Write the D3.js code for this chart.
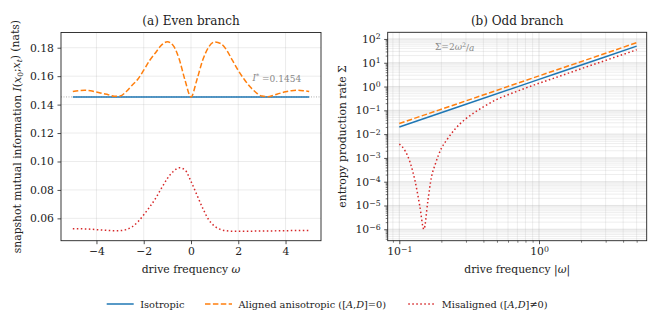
<!DOCTYPE html>
<html>
<head>
<meta charset="utf-8">
<script src="https://cdn.jsdelivr.net/npm/d3@7"></script>
<style>
  body { margin: 0; background: #fff; }
  svg { font-family: 'DejaVu Serif', serif; }
</style>
</head>
<body>
<svg id="chart" width="652" height="314"></svg>
<script>
// (a) even branch: drive frequency vs snapshot mutual information
const evenOmega = [
  -5, -4.75, -4.5, -4.25, -4, -3.75, -3.5, -3.25, -3, -2.75, -2.5, -2.25, -2, -1.75,
  -1.5, -1.25, -1, -0.75, -0.5, -0.25, 0, 0.25, 0.5, 0.75, 1, 1.25, 1.5, 1.75, 2,
  2.25, 2.5, 2.75, 3, 3.25, 3.5, 3.75, 4, 4.25, 4.5, 4.75, 5,
]
const isoOmega = [-5, 5]
const isoEven = [0.1454, 0.1454]
const alignedEven = [
  0.1492, 0.1498, 0.1501, 0.1498, 0.1488, 0.1478, 0.147, 0.1459, 0.146, 0.149, 0.1535,
  0.1578, 0.1642, 0.171, 0.1765, 0.1818, 0.1842, 0.1815, 0.172, 0.157, 0.1454, 0.1575,
  0.1715, 0.1805, 0.184, 0.183, 0.1785, 0.1712, 0.164, 0.1578, 0.1525, 0.1485, 0.146,
  0.1456, 0.1466, 0.1479, 0.149, 0.1498, 0.1501, 0.1498, 0.1492,
]
const misalignedEven = [
  0.0527, 0.0527, 0.0526, 0.0524, 0.0521, 0.0518, 0.0515, 0.0513, 0.0514, 0.0521, 0.054,
  0.0575, 0.0625, 0.068, 0.074, 0.0812, 0.088, 0.093, 0.0956, 0.094, 0.086, 0.0765,
  0.067, 0.059, 0.0545, 0.0522, 0.0513, 0.051, 0.051, 0.051, 0.051, 0.0511, 0.0511,
  0.0512, 0.0512, 0.0513, 0.0513, 0.0514, 0.0514, 0.0515, 0.0515,
]
const iStar = 0.1454
const evenXTicks = [-4, -2, 0, 2, 4]
const evenYTicks = [0.06, 0.08, 0.1, 0.12, 0.14, 0.16, 0.18]

// (b) odd branch: |omega| vs entropy production rate
const lineOmega = [0.1, 0.3, 1, 3, 5]
const isoOdd = [0.02, 0.18, 2, 18, 50]
const alignedOdd = [0.028, 0.25, 2.8, 25, 70]
const oddOmega = [
  0.1, 0.11, 0.12, 0.13, 0.14, 0.15, 0.16, 0.17, 0.18, 0.2, 0.22, 0.25, 0.3, 0.35,
  0.4, 0.5, 0.6, 0.7, 0.8, 1, 1.5, 2, 3, 4, 5,
]
const misalignedOdd = [
  3.8e-3, 2.0e-3, 6e-4, 1e-4, 1e-5, 1e-6, 1.5e-5, 1.6e-4, 5e-4, 2.5e-3, 6e-3, 1.6e-2,
  4.5e-2, 8.5e-2, 0.14, 0.29, 0.45, 0.64, 0.86, 1.37, 3.1, 5.6, 12.6, 22.4, 35,
]
const oddXExponents = [-1, 0]
const oddYExponents = [-6, -5, -4, -3, -2, -1, 0, 1, 2]

const legendLabels = ['Isotropic', 'Aligned anisotropic', 'Misaligned']

const colors = { iso: '#1f77b4', aligned: '#ff7f0e', mis: '#d62728' }
const dashes = { iso: null, aligned: '5.5,2.4', mis: '1.5,2.5' }

const svg = d3.select('#chart')

const boxA = { left: 61, right: 321, top: 32.5, bottom: 240.7 }
const boxB = { left: 387.7, right: 646.7, top: 32.3, bottom: 240.7 }

const xA = d3.scaleLinear().domain([-5.5, 5.5]).range([boxA.left, boxA.right])
const yA = d3.scaleLinear().domain([0.0443, 0.1907]).range([boxA.bottom, boxA.top])
const xB = d3.scaleLog().domain([0.0826, 5.9]).range([boxB.left, boxB.right])
const yB = d3.scaleLog().domain([10 ** -6.48, 10 ** 2.28]).range([boxB.bottom, boxB.top])

function minorLogTicks(scale) {
  const [lo, hi] = scale.domain()
  const out = []
  for (let e = Math.floor(Math.log10(lo)); e <= Math.ceil(Math.log10(hi)); e++) {
    for (let m = 2; m <= 9; m++) {
      const v = m * 10 ** e
      if (v >= lo && v <= hi) out.push(v)
    }
  }
  return out
}

function styleAxis(g, fontSize) {
  g.select('.domain').remove()
  g.selectAll('.tick line').attr('stroke', '#222').attr('stroke-width', 0.8)
  g.selectAll('.tick text')
    .attr('fill', '#222')
    .style('font-family', 'DejaVu Serif')
    .style('font-size', fontSize + 'px')
}

function gridLines(g, values, x, y, box, vertical, opacity) {
  g.selectAll(null)
    .data(values)
    .join('line')
    .attr('x1', d => (vertical ? x(d) : box.left))
    .attr('x2', d => (vertical ? x(d) : box.right))
    .attr('y1', d => (vertical ? box.top : y(d)))
    .attr('y2', d => (vertical ? box.bottom : y(d)))
    .attr('stroke', '#b0b0b0')
    .attr('stroke-opacity', opacity)
    .attr('stroke-width', 0.8)
}

function frame(box) {
  svg
    .append('rect')
    .attr('x', box.left)
    .attr('y', box.top)
    .attr('width', box.right - box.left)
    .attr('height', box.bottom - box.top)
    .attr('fill', 'none')
    .attr('stroke', '#222')
    .attr('stroke-width', 0.9)
}

function series(g, xs, ys, x, y, key) {
  const line = d3
    .line()
    .x(d => x(d[0]))
    .y(d => y(d[1]))
    .curve(d3.curveMonotoneX)
  g.append('path')
    .datum(d3.zip(xs, ys))
    .attr('d', line)
    .attr('fill', 'none')
    .attr('stroke', colors[key])
    .attr('stroke-width', 1.5)
    .attr('stroke-dasharray', dashes[key])
}

function powLabel(sel, exp) {
  sel.text('10')
  sel
    .append('tspan')
    .attr('dy', '-0.45em')
    .style('font-size', '0.72em')
    .text(exp < 0 ? '\u2212' + -exp : exp)
}

// ---------- panel (a)
const gA = svg.append('g')
gridLines(gA.append('g'), evenXTicks, xA, yA, boxA, true, 0.3)
gridLines(gA.append('g'), evenYTicks, xA, yA, boxA, false, 0.3)

gA.append('line')
  .attr('x1', boxA.left)
  .attr('x2', boxA.right)
  .attr('y1', yA(iStar))
  .attr('y2', yA(iStar))
  .attr('stroke', '#999')
  .attr('stroke-width', 0.8)
  .attr('stroke-dasharray', '1,1.5')

series(gA, isoOmega, isoEven, xA, yA, 'iso')
series(gA, evenOmega, alignedEven, xA, yA, 'aligned')
series(gA, evenOmega, misalignedEven, xA, yA, 'mis')

const iText = gA
  .append('text')
  .attr('x', 252.5)
  .attr('y', 80.5)
  .attr('fill', '#888')
  .style('font-size', '9px')
iText.append('tspan').style('font-style', 'italic').text('I')
iText.append('tspan').attr('dy', '-0.4em').style('font-size', '0.7em').text('*')
iText.append('tspan').attr('dy', '0.4em').text(' =0.1454')

frame(boxA)

svg
  .append('g')
  .attr('transform', `translate(0, ${boxA.bottom})`)
  .call(d3.axisBottom(xA).tickValues(evenXTicks).tickSize(3.5).tickPadding(3.5).tickFormat(d3.format('d')))
  .call(g => styleAxis(g, 10.8))

svg
  .append('g')
  .attr('transform', `translate(${boxA.left}, 0)`)
  .call(d3.axisLeft(yA).tickValues(evenYTicks).tickSize(3.5).tickPadding(3.5).tickFormat(d3.format('.2f')))
  .call(g => styleAxis(g, 10.8))

svg
  .append('text')
  .attr('x', (boxA.left + boxA.right) / 2)
  .attr('y', 25)
  .attr('text-anchor', 'middle')
  .style('font-size', '12px')
  .attr('fill', '#222')
  .text('(a) Even branch')

const xlabA = svg
  .append('text')
  .attr('x', (boxA.left + boxA.right) / 2)
  .attr('y', 272.5)
  .attr('text-anchor', 'middle')
  .style('font-size', '10.8px')
  .attr('fill', '#222')
xlabA.append('tspan').text('drive frequency ')
xlabA.append('tspan').style('font-style', 'italic').text('\u03c9')

const ylabA = svg
  .append('text')
  .attr('transform', `translate(21, ${(boxA.top + boxA.bottom) / 2}) rotate(-90)`)
  .attr('text-anchor', 'middle')
  .style('font-size', '10.8px')
  .attr('fill', '#222')
ylabA.append('tspan').text('snapshot mutual information ')
ylabA.append('tspan').style('font-style', 'italic').text('I')
ylabA.append('tspan').text('(')
ylabA.append('tspan').style('font-style', 'italic').text('x')
ylabA.append('tspan').attr('dy', '0.25em').style('font-size', '0.7em').text('0')
ylabA.append('tspan').attr('dy', '-0.25em').text(';')
ylabA.append('tspan').style('font-style', 'italic').text('x')
ylabA.append('tspan').attr('dy', '0.25em').style('font-size', '0.7em').style('font-style', 'italic').text('t')
ylabA.append('tspan').attr('dy', '-0.25em').text(') (nats)')

// ---------- panel (b)
const gB = svg.append('g')
const xMajor = oddXExponents.map(e => 10 ** e)
const yMajor = oddYExponents.map(e => 10 ** e)
gridLines(gB.append('g'), minorLogTicks(xB), xB, yB, boxB, true, 0.28)
gridLines(gB.append('g'), minorLogTicks(yB), xB, yB, boxB, false, 0.28)
gridLines(gB.append('g'), xMajor, xB, yB, boxB, true, 0.45)
gridLines(gB.append('g'), yMajor, xB, yB, boxB, false, 0.45)

series(gB, lineOmega, isoOdd, xB, yB, 'iso')
series(gB, lineOmega, alignedOdd, xB, yB, 'aligned')
series(gB, oddOmega, misalignedOdd, xB, yB, 'mis')

const sText = gB
  .append('text')
  .attr('x', 435)
  .attr('y', 50)
  .attr('fill', '#888')
  .style('font-size', '9px')
sText.append('tspan').text('\u03a3=2')
sText.append('tspan').style('font-style', 'italic').text('\u03c9')
sText.append('tspan').attr('dy', '-0.4em').style('font-size', '0.7em').text('2')
sText.append('tspan').attr('dy', '0.4em').text('/')
sText.append('tspan').style('font-style', 'italic').text('a')

frame(boxB)

svg
  .append('g')
  .attr('transform', `translate(0, ${boxB.bottom})`)
  .call(d3.axisBottom(xB).tickValues(xMajor).tickSize(3.5).tickPadding(3.5).tickFormat(''))
  .call(g => styleAxis(g, 10.8))
  .call(g => g.selectAll('.tick text').each(function (d) { powLabel(d3.select(this), Math.round(Math.log10(d))) }))

svg
  .append('g')
  .attr('transform', `translate(0, ${boxB.bottom})`)
  .call(d3.axisBottom(xB).tickValues(minorLogTicks(xB)).tickSize(2).tickFormat(''))
  .call(g => styleAxis(g, 10.8))
  .call(g => g.selectAll('.tick line').attr('stroke-width', 0.6))

svg
  .append('g')
  .attr('transform', `translate(${boxB.left}, 0)`)
  .call(d3.axisLeft(yB).tickValues(yMajor).tickSize(3.5).tickPadding(3.5).tickFormat(''))
  .call(g => styleAxis(g, 10.8))
  .call(g => g.selectAll('.tick text').each(function (d) { powLabel(d3.select(this), Math.round(Math.log10(d))) }))

svg
  .append('g')
  .attr('transform', `translate(${boxB.left}, 0)`)
  .call(d3.axisLeft(yB).tickValues(minorLogTicks(yB)).tickSize(2).tickFormat(''))
  .call(g => styleAxis(g, 10.8))
  .call(g => g.selectAll('.tick line').attr('stroke-width', 0.6))

svg
  .append('text')
  .attr('x', (boxB.left + boxB.right) / 2)
  .attr('y', 25)
  .attr('text-anchor', 'middle')
  .style('font-size', '12px')
  .attr('fill', '#222')
  .text('(b) Odd branch')

const xlabB = svg
  .append('text')
  .attr('x', (boxB.left + boxB.right) / 2)
  .attr('y', 272.5)
  .attr('text-anchor', 'middle')
  .style('font-size', '10.8px')
  .attr('fill', '#222')
xlabB.append('tspan').text('drive frequency |')
xlabB.append('tspan').style('font-style', 'italic').text('\u03c9')
xlabB.append('tspan').text('|')

svg
  .append('text')
  .attr('transform', `translate(346, ${(boxB.top + boxB.bottom) / 2}) rotate(-90)`)
  .attr('text-anchor', 'middle')
  .style('font-size', '10.8px')
  .attr('fill', '#222')
  .text('entropy production rate \u03a3')

// ---------- legend
const legendItems = [
  { key: 'iso', x: 106.7, label: [{ t: legendLabels[0] }] },
  {
    key: 'aligned',
    x: 205,
    label: [
      { t: legendLabels[1] + ' ([' },
      { t: 'A', i: true },
      { t: ',' },
      { t: 'D', i: true },
      { t: ']=0)' },
    ],
  },
  {
    key: 'mis',
    x: 408.3,
    label: [
      { t: legendLabels[2] + ' ([' },
      { t: 'A', i: true },
      { t: ',' },
      { t: 'D', i: true },
      { t: ']\u22600)' },
    ],
  },
]

const legend = svg.append('g')
legendItems.forEach(item => {
  legend
    .append('line')
    .attr('x1', item.x)
    .attr('x2', item.x + 27)
    .attr('y1', 304)
    .attr('y2', 304)
    .attr('stroke', colors[item.key])
    .attr('stroke-width', 1.5)
    .attr('stroke-dasharray', dashes[item.key])
  const t = legend
    .append('text')
    .attr('x', item.x + 33.5)
    .attr('y', 307.5)
    .style('font-size', '9.8px')
    .attr('fill', '#222')
  item.label.forEach(p => {
    t.append('tspan').style('font-style', p.i ? 'italic' : null).text(p.t)
  })
})
</script>
</body>
</html>
